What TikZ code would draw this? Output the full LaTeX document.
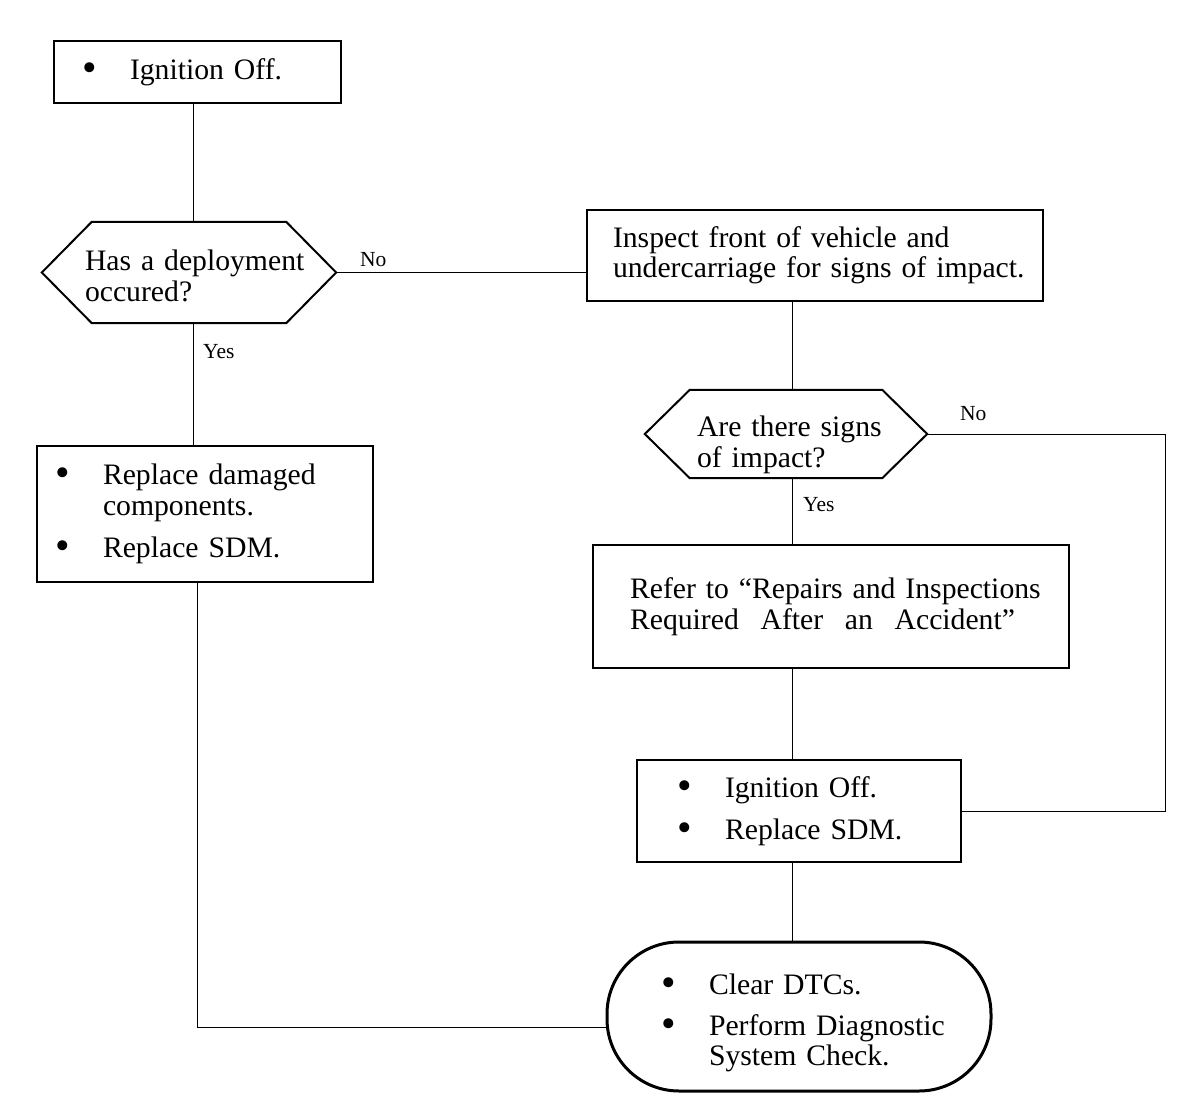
\documentclass[tikz,border=0pt]{standalone}
\usepackage{fontspec}
\setmainfont{Liberation Serif}

\newcommand\bul{\makebox[48pt][l]{\raisebox{-2pt}{\scalebox{1.4}{\textbullet}}}}
\newcommand\ind{\hspace*{48pt}}

\begin{document}
\begin{tikzpicture}[x=1pt,y=-1pt,
    box/.style={draw, line width=2pt, align=left, inner sep=0pt,
        font=\fontsize{29.7}{30.5}\selectfont},
    hexbox/.style={inner sep=0pt, align=left,
        font=\fontsize{29.7}{30.5}\selectfont},
    lbl/.style={inner sep=0pt, font=\fontsize{21.5}{22}\selectfont},
    wire/.style={line width=1pt}]

    \useasboundingbox (0,0) rectangle (1200,1118);

    % === GUIDE LINES ===
    \coordinate (lspine) at (193,0);
    \coordinate (lback) at (197,0);
    \coordinate (rspine) at (792,0);
    \coordinate (rloop) at (1165,0);

    % === LEFT COLUMN ===
    % Start box
    \node[box, minimum width=287pt, minimum height=62pt, text width=231pt]
        (start) at (197.5,72) {\bul Ignition Off.};

    % Deployment question
    \node[hexbox, minimum width=294pt, minimum height=101pt, text width=208pt]
        (deploy) at (189,272.5) {\rule{0pt}{27pt}\mbox{Has a deployment}\\occured?};
    \draw[line width=2pt] (deploy.west) -- ([xshift=50pt]deploy.north west) --
        ([xshift=-50pt]deploy.north east) -- (deploy.east) --
        ([xshift=-50pt]deploy.south east) -- ([xshift=50pt]deploy.south west) -- cycle;

    % Replace parts
    \node[box, minimum width=336pt, minimum height=136pt, text width=300pt]
        (fix) at (205,514) {\bul Replace damaged\\\ind components.\\[11.5pt]\bul Replace SDM.};

    % === RIGHT COLUMN ===
    % Inspection
    \node[box, minimum width=456pt, minimum height=91pt, text width=404pt]
        (inspect) at (815,255.5) {\mbox{Inspect front of vehicle and}\\\mbox{undercarriage for signs of impact.}};

    % Impact question
    \node[hexbox, minimum width=282pt, minimum height=88pt, text width=178pt]
        (impact) at (786,434) {\rule{0pt}{42pt}\mbox{Are there signs}\\of impact?};
    \draw[line width=2pt] (impact.west) -- ([xshift=45pt]impact.north west) --
        ([xshift=-45pt]impact.north east) -- (impact.east) --
        ([xshift=-45pt]impact.south east) -- ([xshift=45pt]impact.south west) -- cycle;

    % Refer to manual
    \node[box, minimum width=476pt, minimum height=123pt, text width=402pt]
        (refer) at (831,606.5) {\mbox{Refer to “Repairs and Inspections}\\\makebox[385pt][l]{Required\hfill After\hfill an\hfill Accident”}};

    % Replace SDM
    \node[box, minimum width=324pt, minimum height=102pt, text width=244pt]
        (swap) at (799,811) {\bul Ignition Off.\\[11.5pt]\bul Replace SDM.};

    % === END ===
    \node[box, line width=3pt, rounded corners=72pt, minimum width=384pt,
        minimum height=149pt, text width=276pt]
        (done) at (799,1016.5) {\rule{0pt}{33pt}\bul Clear DTCs.\\[10.5pt]\mbox{\bul Perform Diagnostic}\\\ind System Check.};

    % === LABELS ===
    \node[lbl, anchor=west] (no1) at (360,260) {No};
    \node[lbl, anchor=west] (yes1) at (203,352) {Yes};
    \node[lbl, anchor=west] (no2) at (960,414) {No};
    \node[lbl, anchor=west] (yes2) at (803,505) {Yes};

    % === CONNECTORS ===
    \draw[wire] (lspine |- start.south) -- (lspine |- deploy.north);
    \draw[wire] (lspine |- deploy.south) -- (lspine |- fix.north);
    \draw[wire] (deploy.east) -- (deploy.east -| inspect.west);
    \draw[wire] (rspine |- inspect.south) -- (rspine |- impact.north);
    \draw[wire] (rspine |- impact.south) -- (rspine |- refer.north);
    \draw[wire] (rspine |- refer.south) -- (rspine |- swap.north);
    \draw[wire] (rspine |- swap.south) -- (rspine |- done.north);
    \draw[wire] (impact.east) -- (impact.east -| rloop) |- (swap.east);
    \draw[wire] (lback |- fix.south) |- ([yshift=-10.5pt]done.west);

\end{tikzpicture}
\end{document}
